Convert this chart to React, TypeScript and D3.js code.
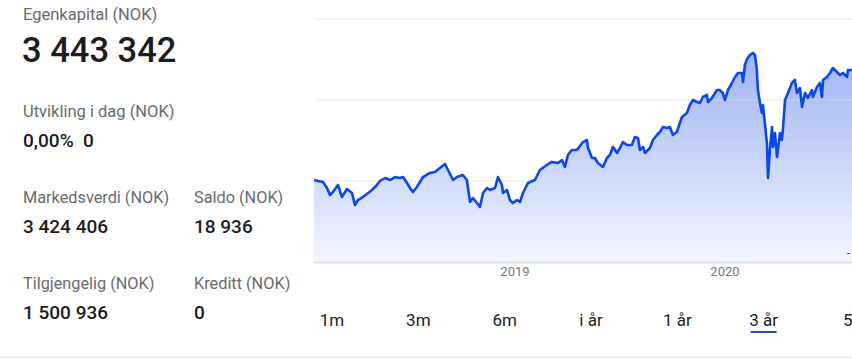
import React from "react";
import * as d3 from "d3";

// time as decimal years, value in thousand NOK
const years: number[] = [
  2018.043, 2018.062, 2018.086, 2018.105, 2018.119, 2018.133, 2018.157, 2018.176, 2018.2, 2018.224,
  2018.238, 2018.252, 2018.276, 2018.295, 2018.319, 2018.338, 2018.357, 2018.381, 2018.405, 2018.429,
  2018.452, 2018.467, 2018.486, 2018.5, 2018.514, 2018.533, 2018.562, 2018.595, 2018.619, 2018.643,
  2018.667, 2018.681, 2018.705, 2018.724, 2018.752, 2018.771, 2018.786, 2018.8, 2018.819, 2018.833,
  2018.848, 2018.867, 2018.881, 2018.905, 2018.919, 2018.938, 2018.943, 2018.962, 2018.976, 2018.99,
  2019.01, 2019.024, 2019.038, 2019.062, 2019.095, 2019.119, 2019.152, 2019.176, 2019.205, 2019.224,
  2019.238, 2019.252, 2019.271, 2019.295, 2019.324, 2019.343, 2019.348, 2019.367, 2019.381, 2019.395,
  2019.419, 2019.438, 2019.452, 2019.467, 2019.486, 2019.5, 2019.514, 2019.533, 2019.557, 2019.571,
  2019.586, 2019.595, 2019.61, 2019.619, 2019.643, 2019.657, 2019.676, 2019.69, 2019.705, 2019.724,
  2019.738, 2019.752, 2019.771, 2019.795, 2019.819, 2019.833, 2019.848, 2019.867, 2019.881, 2019.895,
  2019.914, 2019.919, 2019.938, 2019.962, 2019.976, 2019.99, 2020.0, 2020.014, 2020.033, 2020.048,
  2020.062, 2020.081, 2020.086, 2020.095, 2020.105, 2020.119, 2020.133, 2020.143, 2020.152, 2020.157,
  2020.167, 2020.176, 2020.181, 2020.19, 2020.2, 2020.205, 2020.214, 2020.224, 2020.229, 2020.238,
  2020.248, 2020.252, 2020.262, 2020.271, 2020.276, 2020.286, 2020.3, 2020.319, 2020.333, 2020.343,
  2020.357, 2020.367, 2020.381, 2020.395, 2020.414, 2020.419, 2020.438, 2020.452, 2020.462, 2020.467,
  2020.486, 2020.5, 2020.514, 2020.533, 2020.548, 2020.562, 2020.581, 2020.586, 2020.605,
];

const equity: number[] = [
  2012, 2000, 1988, 1914, 1827, 1864, 1951, 1802, 1901, 1852,
  1704, 1765, 1802, 1840, 1889, 1938, 2000, 2037, 2012, 2049,
  2037, 2049, 1975, 1914, 1864, 1926, 2049, 2099, 2111, 2160,
  2210, 2136, 2012, 2049, 2074, 2012, 1741, 1790, 1728, 1679,
  1852, 1914, 1889, 1914, 2049, 1951, 1852, 1889, 1765, 1728,
  1765, 1741, 1852, 1975, 2012, 2136, 2198, 2235, 2222, 2259,
  2173, 2321, 2383, 2383, 2481, 2506, 2407, 2284, 2284, 2222,
  2173, 2284, 2321, 2420, 2346, 2407, 2481, 2444, 2444, 2543,
  2531, 2383, 2420, 2346, 2407, 2506, 2568, 2605, 2667, 2654,
  2667, 2568, 2605, 2790, 2840, 2938, 3000, 2975, 2963, 3037,
  3062, 2975, 3025, 3123, 3123, 3086, 3000, 3123, 3210, 3284,
  3333, 3333, 3222, 3432, 3506, 3556, 3580, 3556, 3370, 3123,
  2963, 2840, 2938, 2716, 2469, 2037, 2383, 2667, 2420, 2593,
  2296, 2383, 2593, 2506, 2630, 3000, 3086, 3210, 3247, 3086,
  3148, 2914, 3086, 3025, 3123, 3037, 3160, 3210, 3037, 3247,
  3284, 3333, 3395, 3346, 3309, 3333, 3284, 3370, 3370,
];

const yGrid: number[] = [2000, 3000, 4000];
const xTicks: number[] = [2019, 2020];
const periods: string[] = ["1m", "3m", "6m", "i år", "1 år", "3 år", "5 år"];
const activePeriod = "3 år";

const stats = [
  { label: "Markedsverdi (NOK)", value: "3 424 406" },
  { label: "Saldo (NOK)", value: "18 936" },
  { label: "Tilgjengelig (NOK)", value: "1 500 936" },
  { label: "Kreditt (NOK)", value: "0" },
];

const FONT = "Roboto, 'Open Sans', sans-serif";

export default function App() {
  const W = 852;
  const H = 359;
  const left = 314;
  const right = 852;
  const top = 19;
  const bottom = 262;

  const x = d3.scaleLinear().domain([2018.043, 2020.605]).range([left, right]);
  const y = d3.scaleLinear().domain([1000, 4000]).range([bottom, top]);

  const data = years.map((t, i) => ({ t, v: equity[i] }));
  const line = d3.line<{ t: number; v: number }>().x((d) => x(d.t)).y((d) => y(d.v));
  const area = d3
    .area<{ t: number; v: number }>()
    .x((d) => x(d.t))
    .y0(bottom)
    .y1((d) => y(d.v));

  const statPos = [
    { x: 23, ly: 203, vy: 233 },
    { x: 194, ly: 203, vy: 233 },
    { x: 23, ly: 289, vy: 319 },
    { x: 194, ly: 289, vy: 319 },
  ];

  const btnScale = d3.scalePoint<string>().domain(periods).range([332, 850]);

  return (
    <div style={{ position: "absolute", left: 0, top: 0, width: W, height: H, background: "#fff" }}>
      <svg width={W} height={H} style={{ display: "block", fontFamily: FONT }}>
        <defs>
          <linearGradient id="fillGrad" gradientUnits="userSpaceOnUse" x1="0" y1={50} x2="0" y2={bottom}>
            <stop offset="0%" stopColor="#9db2f2" />
            <stop offset="100%" stopColor="#f3f6fe" />
          </linearGradient>
          <clipPath id="plotClip">
            <rect x={left} y={0} width={right - left} height={bottom + 1} />
          </clipPath>
        </defs>

        {/* left panel */}
        <text x={23} y={20} fontSize={16.5} fill="#6b6b6b">Egenkapital (NOK)</text>
        <text x={22} y={62} fontSize={34.5} fontWeight={500} fill="#1c1c1c">3 443 342</text>
        <text x={23} y={117} fontSize={16.5} fill="#6b6b6b">Utvikling i dag (NOK)</text>
        <text x={23} y={147} fontSize={19} fontWeight={500} fill="#1c1c1c" xmlSpace="preserve" style={{ whiteSpace: "pre" }}>
          {"0,00%  0"}
        </text>
        {stats.map((s, i) => (
          <g key={s.label}>
            <text x={statPos[i].x} y={statPos[i].ly} fontSize={16.3} fill="#6b6b6b">{s.label}</text>
            <text x={statPos[i].x} y={statPos[i].vy} fontSize={19} fontWeight={500} fill="#1c1c1c">{s.value}</text>
          </g>
        ))}

        {/* chart */}
        <g clipPath="url(#plotClip)">
          <path d={area(data) ?? ""} fill="url(#fillGrad)" />
          {yGrid.map((g) => (
            <line key={g} x1={left} x2={right} y1={y(g)} y2={y(g)} stroke="#d9d9d9" strokeOpacity={0.6} strokeWidth={1} />
          ))}
          <path d={line(data) ?? ""} fill="none" stroke="#0a47f2" strokeWidth={2.6} strokeLinejoin="round" />
        </g>
        <line x1={left} x2={right} y1={bottom + 0.5} y2={bottom + 0.5} stroke="#e2e2e2" strokeWidth={2} />
        <text x={847} y={257} fontSize={12} fill="#444">-</text>
        {xTicks.map((t) => (
          <text key={t} x={x(t)} y={276} fontSize={13} fill="#777" textAnchor="middle">{t}</text>
        ))}

        {/* period buttons */}
        {periods.map((p, i) => (
          <text
            key={p}
            x={i === periods.length - 1 ? 843 : btnScale(p)}
            y={326}
            fontSize={17}
            fill="#222"
            textAnchor={i === periods.length - 1 ? "start" : "middle"}
          >
            {p}
          </text>
        ))}
        <rect x={(btnScale(activePeriod) ?? 0) - 13} y={331} width={26} height={2} fill="#1a4fb8" />

        <rect x={0} y={356} width={W} height={3} fill="#efefef" />
      </svg>
    </div>
  );
}
